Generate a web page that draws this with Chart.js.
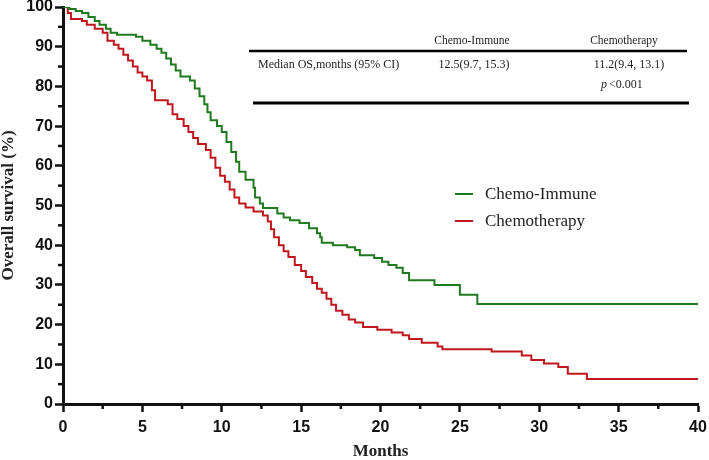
<!DOCTYPE html>
<html>
<head>
<meta charset="utf-8">
<script src="https://cdn.jsdelivr.net/npm/chart.js@4.4.1/dist/chart.umd.min.js"></script>
<style>
  html, body { margin: 0; padding: 0; background: #fff; }
</style>
</head>
<body>
<canvas id="km" width="709" height="460"></canvas>
<script>
const seriesNames = ['Chemo-Immune', 'Chemotherapy'];
const seriesColors = ['#1f7a1f', '#c0171f'];

const immuneMonths = [0, 0.4, 0.8, 1.2, 1.6, 2.0, 2.3, 2.7, 3.0, 3.4, 4.6, 5.0, 5.5, 5.9, 6.2, 6.5, 6.8, 7.1, 7.4, 8.0, 8.3, 8.6, 8.9, 9.1, 9.3, 9.7, 10.0, 10.3, 10.6, 10.9, 11.1, 11.5, 12.0, 12.1, 12.4, 12.6, 13.5, 13.9, 14.3, 14.9, 15.5, 16.0, 16.2, 16.3, 17.0, 17.9, 18.4, 18.7, 19.6, 20.1, 20.5, 21.0, 21.4, 21.8, 23.4, 25.0, 26.1, 40];
const immuneSurvival = [100, 99.5, 99, 98.5, 97.5, 96.5, 95.5, 94.5, 93.5, 93, 92.5, 91.5, 90.5, 89.5, 88.5, 87, 85.5, 84, 82.5, 81.5, 79.5, 77.5, 75.5, 73.5, 71.5, 70, 68.5, 66, 63.5, 61, 58.5, 56.5, 54.5, 52, 50.5, 49.4, 48, 47, 46.3, 45.6, 44.3, 43, 42, 40.6, 40, 39.5, 38.8, 37.5, 36.8, 35.8, 35, 34.3, 33, 31.2, 30, 27.5, 25.2, 25.2];

const chemoMonths = [0, 0.3, 0.5, 1.2, 1.5, 2.0, 2.5, 2.8, 3.2, 3.5, 3.8, 4.1, 4.4, 4.7, 5.0, 5.3, 5.6, 5.8, 6.6, 6.9, 7.2, 7.6, 7.9, 8.2, 8.5, 9.0, 9.3, 9.6, 9.9, 10.2, 10.5, 10.8, 11.1, 11.5, 12.0, 12.6, 12.9, 13.1, 13.3, 13.6, 13.9, 14.2, 14.6, 15.0, 15.3, 15.7, 16.0, 16.3, 16.6, 16.9, 17.2, 17.6, 18.0, 18.4, 18.9, 19.8, 20.7, 21.4, 21.8, 22.6, 23.6, 23.9, 27.0, 28.9, 29.5, 30.3, 31.2, 31.8, 33.0, 40];
const chemoSurvival = [100, 98.5, 97, 96.5, 95.5, 94.5, 93.5, 91.5, 90.5, 89.5, 88, 86.5, 85, 83.5, 82.5, 81.5, 79, 76.5, 75.5, 73, 71.8, 70, 68.5, 67, 65.5, 64, 62, 59.5, 57.5, 56, 54, 52, 50.5, 49.5, 48.5, 47.5, 46, 44, 42, 40, 38.5, 37, 35, 33.5, 32, 30.5, 29, 28, 26.5, 25, 23.5, 22.5, 21.3, 20.5, 19.4, 18.7, 18.0, 17.3, 16.4, 15.4, 14.5, 13.8, 13.2, 12.2, 11.1, 10.2, 9.3, 7.6, 6.3, 6.3];

const monthTicks = [0, 5, 10, 15, 20, 25, 30, 35, 40];
const monthMinorTicks = [2.5, 7.5, 12.5, 17.5, 22.5, 27.5, 32.5, 37.5];
const survivalTicks = [0, 10, 20, 30, 40, 50, 60, 70, 80, 90, 100];
const survivalMinorTicks = [5, 15, 25, 35, 45, 55, 65, 75, 85, 95];

const tableHeader = ['Chemo-Immune', 'Chemotherapy'];
const tableRowLabel = 'Median OS,months (95% CI)';
const tableRowValues = ['12.5(9.7, 15.3)', '11.2(9.4, 13.1)'];
const pValueText = '<0.001';

const toPoints = (xs, ys) => xs.map((x, i) => ({ x: x, y: ys[i] }));

const tickFont = { family: 'Liberation Sans', size: 16, weight: 'bold' };
const titleFont = { family: 'Liberation Serif', size: 17, weight: 'bold', lineHeight: 1 };

const minorTicks = {
  id: 'minorTicks',
  afterDraw(chart) {
    const { ctx, scales: { x, y } } = chart;
    ctx.save();
    ctx.strokeStyle = '#111';
    ctx.lineWidth = 2.5;
    monthMinorTicks.forEach(v => {
      const px = x.getPixelForValue(v);
      ctx.beginPath();
      ctx.moveTo(px, x.top);
      ctx.lineTo(px, x.top + 5);
      ctx.stroke();
    });
    survivalMinorTicks.forEach(v => {
      const py = y.getPixelForValue(v);
      ctx.beginPath();
      ctx.moveTo(y.right, py);
      ctx.lineTo(y.right - 5, py);
      ctx.stroke();
    });
    ctx.restore();
  }
};

const legendAndTable = {
  id: 'legendAndTable',
  afterDraw(chart) {
    const ctx = chart.ctx;
    ctx.save();

    // legend
    ctx.font = '17px "Liberation Serif"';
    ctx.textBaseline = 'middle';
    ctx.textAlign = 'left';
    chart.data.datasets.forEach((ds, i) => {
      const ly = 194 + i * 27;
      ctx.strokeStyle = ds.borderColor;
      ctx.lineWidth = 2;
      ctx.beginPath();
      ctx.moveTo(455, ly);
      ctx.lineTo(473, ly);
      ctx.stroke();
      ctx.fillStyle = '#222';
      ctx.fillText(ds.label, 485, ly + 1);
    });

    // table
    ctx.fillStyle = '#222';
    ctx.font = '11.5px "Liberation Serif"';
    ctx.textAlign = 'center';
    ctx.fillText(tableHeader[0], 472, 41);
    ctx.fillText(tableHeader[1], 624, 41);

    ctx.strokeStyle = '#000';
    ctx.lineWidth = 2.5;
    ctx.beginPath();
    ctx.moveTo(249, 51);
    ctx.lineTo(687, 51);
    ctx.stroke();

    ctx.font = '12px "Liberation Serif"';
    ctx.textAlign = 'left';
    ctx.fillText(tableRowLabel, 258, 65);
    ctx.textAlign = 'center';
    ctx.fillText(tableRowValues[0], 474, 65);
    ctx.fillText(tableRowValues[1], 629, 65);

    ctx.textAlign = 'left';
    ctx.font = 'italic 12px "Liberation Serif"';
    ctx.fillText('p', 601, 85);
    ctx.font = '12px "Liberation Serif"';
    ctx.fillText(pValueText, 609, 85);

    ctx.lineWidth = 3;
    ctx.beginPath();
    ctx.moveTo(253, 103);
    ctx.lineTo(689, 103);
    ctx.stroke();

    ctx.restore();
  }
};

new Chart(document.getElementById('km'), {
  type: 'line',
  data: {
    datasets: [
      {
        label: seriesNames[0],
        data: toPoints(immuneMonths, immuneSurvival),
        borderColor: seriesColors[0],
        borderWidth: 2,
        pointRadius: 0,
        stepped: true,
        fill: false
      },
      {
        label: seriesNames[1],
        data: toPoints(chemoMonths, chemoSurvival),
        borderColor: seriesColors[1],
        borderWidth: 2,
        pointRadius: 0,
        stepped: true,
        fill: false
      }
    ]
  },
  options: {
    responsive: false,
    animation: false,
    events: [],
    layout: { padding: { top: 7, right: 11, left: 0, bottom: 0 } },
    plugins: {
      legend: { display: false },
      tooltip: { enabled: false }
    },
    scales: {
      x: {
        type: 'linear',
        min: 0,
        max: 40,
        afterBuildTicks: scale => { scale.ticks = monthTicks.map(v => ({ value: v })); },
        afterFit: scale => { scale.height = 56; scale.paddingLeft = 0; scale.paddingRight = 0; },
        ticks: { font: tickFont, color: '#111', padding: 6, maxRotation: 0 },
        grid: { display: true, drawOnChartArea: false, drawTicks: true, tickLength: 8, tickWidth: 2.5, tickColor: '#111' },
        border: { display: true, color: '#111', width: 3 },
        title: { display: true, text: 'Months', font: titleFont, color: '#222', padding: { top: 0, bottom: 0 } }
      },
      y: {
        type: 'linear',
        min: 0,
        max: 100,
        afterBuildTicks: scale => { scale.ticks = survivalTicks.map(v => ({ value: v })); },
        afterFit: scale => { scale.width = 63; scale.paddingTop = 0; scale.paddingBottom = 0; },
        ticks: { font: tickFont, color: '#111', padding: 2 },
        grid: { display: true, drawOnChartArea: false, drawTicks: true, tickLength: 8, tickWidth: 2.5, tickColor: '#111' },
        border: { display: true, color: '#111', width: 3 },
        title: { display: true, text: 'Overall survival (%)', font: titleFont, color: '#222', padding: { top: 0, bottom: 0 } }
      }
    }
  },
  plugins: [minorTicks, legendAndTable]
});
</script>
</body>
</html>
